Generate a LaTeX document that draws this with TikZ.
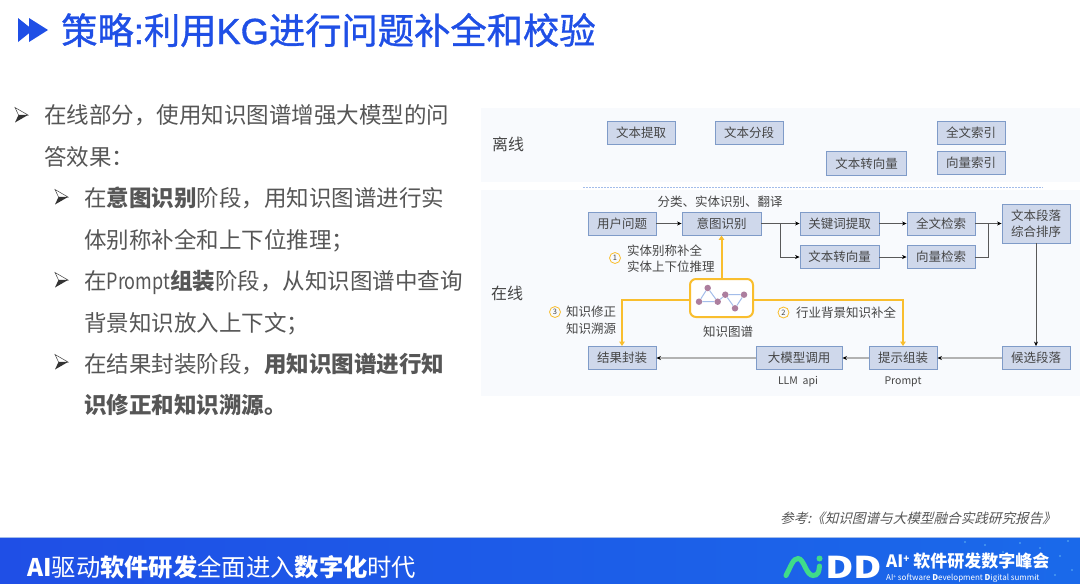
\documentclass[tikz,border=0pt]{standalone}
\usepackage{fontspec}
\setmainfont{Noto Sans CJK SC}
\newfontfamily\titlef[FakeBold=1]{Noto Sans CJK SC}
\newfontfamily\titlel[FakeBold=1]{Liberation Sans}
\newfontfamily\slantf[FakeSlant=0.25]{Noto Sans CJK SC}
\newfontfamily\narrowf[FakeStretch=0.8]{Noto Sans CJK SC}
\usetikzlibrary{arrows.meta,calc}
\definecolor{kgblue}{HTML}{1F4FE6}
\definecolor{txt}{HTML}{565656}
\definecolor{dtxt}{HTML}{454545}
\definecolor{panel}{HTML}{F8FAFD}
\definecolor{boxfill}{HTML}{CFD8EB}
\definecolor{boxline}{HTML}{7F9BC8}
\definecolor{kgy}{HTML}{F9BE2E}
\definecolor{gnode}{HTML}{AC7E9E}
\definecolor{gedge}{HTML}{A3BDEA}
\definecolor{logog}{HTML}{3FDB8A}
\tikzset{
  pbox/.style={draw=boxline,fill=boxfill,line width=0.9pt,inner sep=0pt,text=dtxt,font=\fontsize{12.5}{15.5}\selectfont,align=center},
  w68/.style={pbox,minimum width=68pt,minimum height=23pt},
  w79/.style={pbox,minimum width=79pt,minimum height=23pt},
  lab/.style={inner sep=0pt,text=dtxt,font=\fontsize{12.5}{15.5}\selectfont},
  lnote/.style={lab,anchor=base west},
  big/.style={inner sep=0pt,text=txt,anchor=base west,font=\fontsize{22.5}{27}\selectfont},
  conn/.style={draw=black!65,line width=0.6pt,-{Stealth[length=4.5pt,width=4pt,color=black]}},
  connl/.style={draw=black!30,line width=1.1pt,-{Stealth[length=4.5pt,width=4pt,color=black]}},
  plainl/.style={draw=black!65,line width=0.6pt},
  ylw/.style={draw=kgy,line width=2pt,-{Triangle[length=4.5pt,width=5.5pt]}},
  num/.style={circle,draw=kgy,line width=0.8pt,minimum size=11pt,inner sep=0pt,text=dtxt,font=\fontsize{7.5}{8}\selectfont},
  gdot/.style={circle,fill=gnode,minimum size=6.5pt,inner sep=0pt},
  gl/.style={draw=gedge,line width=1pt},
}
\newcommand{\bul}[2]{%
  \begin{scope}[shift={(#1,#2)}]
    \draw[line width=0.5pt,draw=black!75,fill=white] (0,-7.5) -- (13,0) -- (3.5,0) -- cycle;
    \fill[black!80] (0,7.5) -- (13,0) -- (3.5,0) -- cycle;
  \end{scope}}
\begin{document}
\begin{tikzpicture}[x=1pt,y=-1pt]
\useasboundingbox (0,0) rectangle (1080,584);
\fill[white] (0,0) rectangle (1080,584);
% title
\fill[kgblue] (18,18) -- (33,30) -- (18,42) -- cycle;
\fill[kgblue] (29,18) -- (48,30) -- (29,42) -- cycle;
\node[inner sep=0pt,anchor=base west,text=kgblue,font=\fontsize{36.3}{40}\titlef] (title) at (61,44) {策略{\titlel :}利用{\titlel KG}进行问题补全和校验};
% left text
\bul{15}{115}
\node[big] (l1) at (44,123.5) {在线部分，使用知识图谱增强大模型的问};
\node[big] (l2) at (44,165) {答效果：};
\bul{55}{197}
\node[big] (l3) at (84,206.5) {在\textbf{意图识别}阶段，用知识图谱进行实};
\node[big] (l4) at (84,248) {体别称补全和上下位推理；};
\bul{55}{280}
\node[big] (l5) at (84,289.5) {在{\narrowf Prompt}\textbf{组装}阶段，从知识图谱中查询};
\node[big] (l6) at (84,331) {背景知识放入上下文；};
\bul{55}{362}
\node[big] (l7) at (84,372) {在结果封装阶段，\textbf{用知识图谱进行知}};
\node[big] (l8) at (84,413) {\textbf{识修正和知识溯源。}};
% panels
\fill[panel] (481,108) rectangle (1080,182);
\fill[panel] (481,190) rectangle (1080,396);
\coordinate (da) at (583,187);
\coordinate (db) at (1043,187);
\draw[draw=gedge,line width=0.7pt,dash pattern=on 2pt off 1pt] (da) -- (db);
\node[inner sep=0pt,text=dtxt,font=\fontsize{16}{18}\selectfont] (off) at (508,144) {离线};
\node[inner sep=0pt,text=dtxt,font=\fontsize{16}{18}\selectfont] (on) at (507,293.5) {在线};
% offline boxes
\node[w68] (a1) at (641,133) {文本提取};
\node[w68] (a2) at (749,133) {文本分段};
\node[pbox,minimum width=80pt,minimum height=24pt] (a3) at (866.5,163.5) {文本转向量};
\node[w68] (a4) at (971,133) {全文索引};
\node[w68] (a5) at (971,163) {向量索引};
% online boxes
\node[w68] (user) at (622,223.5) {用户问题};
\node[w79] (intent) at (721.5,223.5) {意图识别};
\node[w79] (kw) at (839.5,223.5) {关键词提取};
\node[w68] (fts) at (941,223.5) {全文检索};
\node[pbox,minimum width=68pt,minimum height=39pt] (rank) at (1036,223.5) {文本段落\\综合排序};
\node[w79] (vec) at (839.5,257) {文本转向量};
\node[w68] (vs) at (941,257) {向量检索};
\node[w68] (res) at (622,358) {结果封装};
\node[pbox,minimum width=86pt,minimum height=23pt] (llm) at (799,358) {大模型调用};
\node[w68] (prm) at (903,358) {提示组装};
\node[w68] (cand) at (1036,358) {候选段落};
% labels
\node[lab] (t1) at (720,202) {分类、实体识别、翻译};
\node[lnote] (t2) at (627,255.5) {实体别称补全};
\node[lnote] (t3) at (627,271) {实体上下位推理};
\node[num] (n1) at (615,258) {1};
\node[lnote] (t4) at (566,316.5) {知识修正};
\node[lnote] (t5) at (566,333) {知识溯源};
\node[num] (n3) at (555,312) {3};
\node[lab] (t6) at (728,332) {知识图谱};
\node[num] (n2) at (783.5,312.5) {2};
\node[lnote] (t7) at (796,317) {行业背景知识补全};
\node[inner sep=0pt,text=dtxt,font=\fontsize{10.5}{12}\selectfont] (t8) at (798,382) {LLM\ \ api};
\node[inner sep=0pt,text=dtxt,font=\fontsize{10.5}{12}\selectfont] (t9) at (903,382) {Prompt};
% connectors
\coordinate (b1) at (780,223.5);
\coordinate (b2) at (988,223.5);
\draw[conn] (user) -- (intent);
\draw[conn] (intent) -- (kw);
\draw[conn] (b1) |- (vec);
\draw[conn] (kw) -- (fts);
\draw[conn] (vec) -- (vs);
\draw[conn] (fts) -- (rank);
\draw[plainl] (vs.east) -| (b2);
\draw[conn] (rank) -- (cand);
\draw[connl] (cand) -- (prm);
\draw[connl] (prm) -- (llm);
\draw[connl] (llm) -- (res);
% knowledge graph
\node[draw=kgy,line width=2pt,rounded corners=6pt,fill=white,minimum width=63pt,minimum height=38pt,inner sep=0pt] (kg) at (721.5,298) {};
\draw[ylw] (kg.north) -- (intent.south);
\draw[ylw] ([yshift=-2pt]kg.west) -| (res.north);
\draw[ylw] ([yshift=-2pt]kg.east) -| (prm.north);
\node[gdot] (g1) at (699,301.7) {};
\node[gdot] (g2) at (707.7,288) {};
\node[gdot] (g3) at (717.7,301.7) {};
\node[gdot] (g4) at (725.3,294.7) {};
\node[gdot] (g5) at (744,294.7) {};
\node[gdot] (g6) at (735,308.3) {};
\draw[gl] (g1) -- (g2) (g2) -- (g3) (g1) -- (g3) (g3) -- (g4) (g4) -- (g5) (g4) -- (g6) (g6) -- (g5);
% reference
\node[inner sep=0pt,anchor=base west,text=txt,font=\fontsize{13.6}{15}\slantf] (ref) at (780,523) {参考:《知识图谱与大模型融合实践研究报告》};
% footer
\shade[left color=kgblue,right color=kgblue!85!cyan] (0,538) rectangle (1080,584);
\draw[draw=gedge,line width=0.6pt] (0,537.7) -- (1080,537.7);
\foreach \px/\py in {985/545,1003/552,1020/543,1040/548,1060/556,1072/570,1035/578,1068/541,965/542,1055/575}
  \fill[cyan!50!white,opacity=.7] (\px,\py) circle (0.8pt);
\node[inner sep=0pt,anchor=base west,text=white,font=\fontsize{24.3}{26}\selectfont] (foot) at (27,576) {\textbf{AI}驱动\textbf{软件研发}全面进入\textbf{数字化}时代};
% logo
\draw[draw=logog,line width=5pt,line cap=round] (786,575.5) .. controls (791,566) and (793,558.5) .. (798,558.5) .. controls (804,558.5) and (806,575.5) .. (813,575.5) .. controls (818,575.5) and (819,572) .. (819.5,566);
\fill[logog] (819.5,558.5) circle (3pt);
\node[inner sep=0pt,anchor=base west,text=white,xscale=1.3,font=\fontsize{30}{30}\bfseries] (dd) at (825,578.5) {DD};
\node[inner sep=0pt,anchor=base west,text=white,font=\fontsize{17}{18}\bfseries] (s1) at (886,567.5) {AI{\fontsize{10}{10}\selectfont\raisebox{5pt}{+}} 软件研发数字峰会};
\node[inner sep=0pt,anchor=base west,text=white,font=\fontsize{8}{9}\selectfont] (s2) at (886,580.5) {AI{\fontsize{5}{5}\selectfont\raisebox{2.5pt}{+}} software \textbf{D}evelopment \textbf{D}igital summit};
\end{tikzpicture}
\end{document}
